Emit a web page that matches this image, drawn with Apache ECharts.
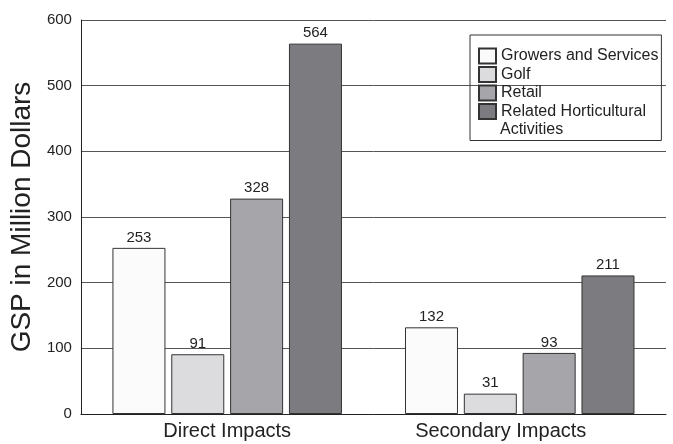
<!DOCTYPE html>
<html>
<head>
<meta charset="utf-8">
<script src="https://cdn.jsdelivr.net/npm/echarts@6/dist/echarts.min.js"></script>
<style>html,body{margin:0;padding:0;background:#fff}#c{width:673px;height:444px}</style>
</head>
<body>
<div id="c"></div>
<script>
const categories = ['Direct Impacts', 'Secondary Impacts'];
const seriesNames = ['Growers and Services', 'Golf', 'Retail', 'Related Horticultural'];
const legendContinuation = 'Activities';
const growers = [253, 132];
const golf = [91, 31];
const retail = [328, 93];
const related = [564, 211];
const yTicks = [0, 100, 200, 300, 400, 500, 600];

const colors = ['#fbfbfb', '#dcdcde', '#a6a6aa', '#7c7c80'];
const values = [growers, golf, retail, related];
const FONT = '"Liberation Sans", Arial, Helvetica, sans-serif';

const chart = echarts.init(document.getElementById('c'));
chart.setOption({
  animation: false,
  textStyle: { fontFamily: FONT },
  grid: { left: 79, right: 7, top: 20, bottom: 30, containLabel: false },
  legend: {
    orient: 'vertical',
    left: 470,
    top: 35,
    padding: [12, 3, 20, 8],
    borderColor: '#333',
    borderWidth: 1,
    itemWidth: 17,
    itemHeight: 15,
    itemGap: 0.5,
    icon: 'rect',
    textStyle: { fontSize: 16, lineHeight: 18, color: '#222', fontFamily: FONT },
    data: seriesNames
  },
  graphic: [{
    type: 'text',
    left: 500,
    top: 121,
    silent: true,
    style: { text: legendContinuation, fontSize: 16, lineHeight: 18, fill: '#222', fontFamily: FONT }
  }],
  xAxis: {
    type: 'category',
    data: categories,
    axisLine: { show: true, lineStyle: { color: '#222', width: 1 } },
    axisTick: { show: false },
    axisLabel: {
      fontSize: 20, color: '#222', margin: 7, fontFamily: FONT,
      formatter: (v, i) => i === 1 ? '{s|' + v + '}' : v,
      rich: { s: { fontSize: 20, color: '#222', fontFamily: FONT, padding: [0, 38, 0, 0] } }
    }
  },
  yAxis: {
    type: 'value',
    min: yTicks[0],
    max: yTicks[yTicks.length - 1],
    interval: 100,
    name: 'GSP in Million Dollars',
    nameLocation: 'middle',
    nameGap: 42,
    nameTextStyle: { fontSize: 28, color: '#222', fontFamily: FONT },
    axisLine: { show: true, lineStyle: { color: '#222', width: 1 } },
    axisTick: { show: false },
    axisLabel: { fontSize: 15, color: '#222', margin: 9, fontFamily: FONT },
    splitLine: { show: true, lineStyle: { color: '#555', width: 1 } }
  },
  series: seriesNames.map((n, i) => ({
    name: n,
    type: 'bar',
    data: values[i],
    barWidth: 53,
    barGap: '11%',
    itemStyle: { color: colors[i], borderColor: '#333', borderWidth: 1 },
    label: { show: true, position: 'top', distance: 3, fontSize: 15, color: '#222', fontFamily: FONT }
  }))
});
</script>
</body>
</html>
